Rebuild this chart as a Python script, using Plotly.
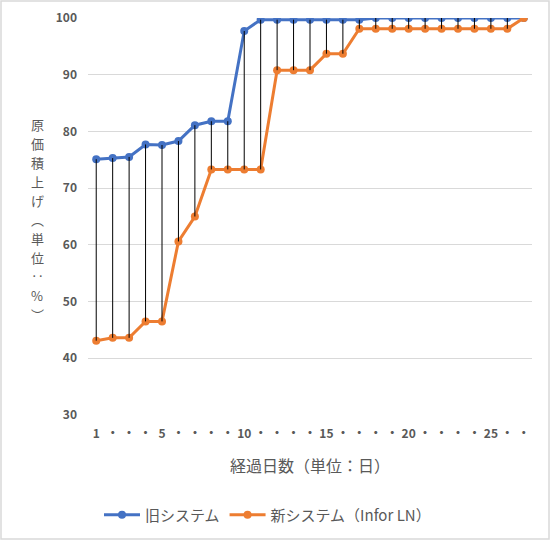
import plotly.graph_objects as go

days = list(range(1, 28))
tick_labels = ["1", "・", "・", "・", "5", "・", "・", "・", "・", "10", "・", "・", "・", "・", "15",
               "・", "・", "・", "・", "20", "・", "・", "・", "・", "25", "・", "・"]
old_system = [75.1, 75.3, 75.5, 77.7, 77.6, 78.3, 81.1, 81.8, 81.8, 97.7,
              99.7, 99.7, 99.7, 99.7, 99.7, 99.7, 99.7, 100, 100, 100,
              100, 100, 100, 100, 100, 100, 100]
new_system = [43.1, 43.6, 43.6, 46.5, 46.5, 60.6, 65.0, 73.3, 73.3, 73.3,
              73.3, 90.8, 90.8, 90.8, 93.7, 93.7, 98.1, 98.1, 98.1, 98.1,
              98.1, 98.1, 98.1, 98.1, 98.1, 98.1, 100]
series_names = ["旧システム", "新システム（Infor LN）"]
x_title = "経過日数（単位：日）"
y_title_chars = ["原", "価", "積", "上", "げ", "︵", "単", "位", "‥", "%", "︶"]

BLUE = "#4472C4"
ORANGE = "#ED7D31"
FONT = "Noto Sans CJK JP"
GRAY = "#595959"

fig = go.Figure()
fig.add_trace(go.Scatter(x=days, y=old_system, mode="lines+markers", name=series_names[0],
                         line=dict(color=BLUE, width=3), marker=dict(color=BLUE, size=8)))
fig.add_trace(go.Scatter(x=days, y=new_system, mode="lines+markers", name=series_names[1],
                         line=dict(color=ORANGE, width=3), marker=dict(color=ORANGE, size=8)))

# high-low drop lines
dx, dy = [], []
for d, a, b in zip(days, old_system, new_system):
    dx += [d, d, None]
    dy += [a, b, None]
fig.add_trace(go.Scatter(x=dx, y=dy, mode="lines", line=dict(color="black", width=1),
                         showlegend=False, hoverinfo="skip"))

L, R, T, B = 88, 18, 18, 125
W, H = 550, 540
pw, ph = W - L - R, H - T - B

fig.update_layout(
    width=W, height=H,
    margin=dict(l=L, r=R, t=T, b=B, autoexpand=False),
    paper_bgcolor="white", plot_bgcolor="white",
    font=dict(family=FONT, color=GRAY),
    showlegend=True,
    legend=dict(orientation="h", x=(99 - L) / pw, xanchor="left", y=-(515 - 415) / ph, yanchor="middle",
                font=dict(size=15, color=GRAY), itemwidth=36, traceorder="normal"),
    xaxis=dict(range=[0.5, 27.5], tickmode="array", tickvals=days, ticktext=tick_labels,
               showgrid=False, zeroline=False, showline=False, ticks="", automargin=False,
               tickfont=dict(size=12, color=GRAY, weight=600), ticklabelstandoff=10,
               title=dict(text=x_title, font=dict(size=16, color=GRAY), standoff=20)),
    yaxis=dict(range=[30, 100], dtick=10, showgrid=True, gridcolor="#D9D9D9", gridwidth=1.3,
               zeroline=False, showline=False, ticks="", automargin=False,
               tickfont=dict(size=12, color=GRAY, weight=600),
               ticklabelstandoff=10),
)

# vertical (stacked) y-axis title, one character per line
char_y = [124, 143, 162, 181, 200, 219, 238, 257, 276, 295, 314]
for ch, py in zip(y_title_chars, char_y):
    fig.add_annotation(xref="paper", yref="paper", x=-(L - 37) / pw, y=(415 - py) / ph,
                       text=ch, showarrow=False, font=dict(size=13, color=GRAY, family=FONT),
                       xanchor="center", yanchor="middle")

fig.add_shape(type="rect", xref="paper", yref="paper",
              x0=-(L - 1) / pw, x1=1 + (R - 1) / pw, y0=-(B - 1) / ph, y1=1 + (T - 1) / ph,
              line=dict(color="#D9D9D9", width=1.5), fillcolor="rgba(0,0,0,0)", layer="below")

fig.write_html("out.html", config={"displayModeBar": False},
               post_script="document.body.style.margin='0';document.body.style.overflow='hidden';")
